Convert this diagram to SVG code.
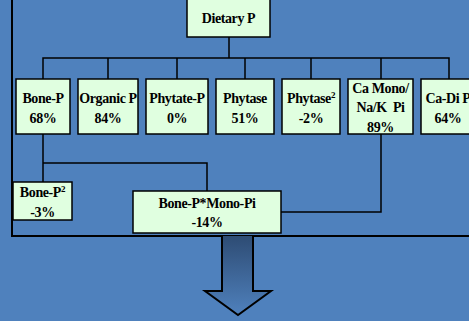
<svg xmlns="http://www.w3.org/2000/svg" width="469" height="321" viewBox="0 0 469 321">
<defs>
<linearGradient id="shaft" x1="0" y1="0" x2="0" y2="1">
<stop offset="0" stop-color="#2E4C74"/>
<stop offset="1" stop-color="#4F81BD"/>
</linearGradient>
<style>
.box{fill:#E0FFE0;stroke:#000;stroke-width:1.5}
.ln{fill:none;stroke:#000;stroke-width:1.5}
text{font-family:"Liberation Serif","Times New Roman",serif;font-weight:bold;font-size:14px;fill:#000;text-anchor:middle;letter-spacing:-0.4px}
.sup{font-size:9px}
</style>
</defs>
<rect x="0" y="0" width="469" height="321" fill="#4F81BD"/>
<g id="frame"><rect x="12" y="-5" width="470" height="241" fill="none" stroke="#000" stroke-width="2"/></g>
<g id="arrow">
<path d="M222,236 L253,236 L253,291 L271,291 L238,315 L205,291 L222,291 Z" fill="url(#shaft)" stroke="none"/>
<path d="M222,236 L222,291 L205,291 L238,315 L271,291 L253,291 L253,236" fill="none" stroke="#000" stroke-width="2"/>
</g>
<g id="connectors">
<path class="ln" d="M229,37 V58" stroke-width="2.5"/>
<path class="ln" d="M43,79 V58 H449 V79"/>
<path class="ln" d="M108,58 V79 M177,58 V79 M245,58 V79 M311,58 V79 M381,58 V79"/>
<path class="ln" d="M43,134 V182 M43,163 H207 V191"/>
<path class="ln" d="M381,134 V212 H281"/>
</g>
<g id="dietary"><rect class="box" x="187" y="-1" width="83" height="38"/><text x="228.5" y="23">Dietary P</text></g>
<g id="bonep"><rect class="box" x="16" y="79" width="54" height="55"/><text x="43" y="103">Bone-P</text><text x="43" y="123">68%</text></g>
<g id="organicp"><rect class="box" x="78" y="79" width="60" height="55"/><text x="108" y="103">Organic P</text><text x="108" y="123">84%</text></g>
<g id="phytatep"><rect class="box" x="146" y="79" width="62" height="55"/><text x="177" y="103">Phytate-P</text><text x="177" y="123">0%</text></g>
<g id="phytase"><rect class="box" x="216" y="79" width="58" height="55"/><text x="245" y="103">Phytase</text><text x="245" y="123">51%</text></g>
<g id="phytase2"><rect class="box" x="282" y="79" width="58" height="55"/><text x="311" y="103">Phytase<tspan class="sup" dy="-5">2</tspan></text><text x="311" y="123">-2%</text></g>
<g id="camono"><rect class="box" x="348" y="79" width="65" height="55"/><text x="380.5" y="93">Ca Mono/</text><text x="380.5" y="112" xml:space="preserve">Na/K  Pi</text><text x="380.5" y="132">89%</text></g>
<g id="cadip"><rect class="box" x="421" y="79" width="56" height="55"/><text x="448" y="103">Ca-Di P</text><text x="448" y="123">64%</text></g>
<g id="bonep2"><rect class="box" x="13" y="182" width="59" height="38"/><text x="42.5" y="197">Bone-P<tspan class="sup" dy="-5">2</tspan></text><text x="42.5" y="217">-3%</text></g>
<g id="bonepmono"><rect class="box" x="133" y="191" width="148" height="42"/><text x="207" y="208">Bone-P*Mono-Pi</text><text x="207" y="227">-14%</text></g>
</svg>
